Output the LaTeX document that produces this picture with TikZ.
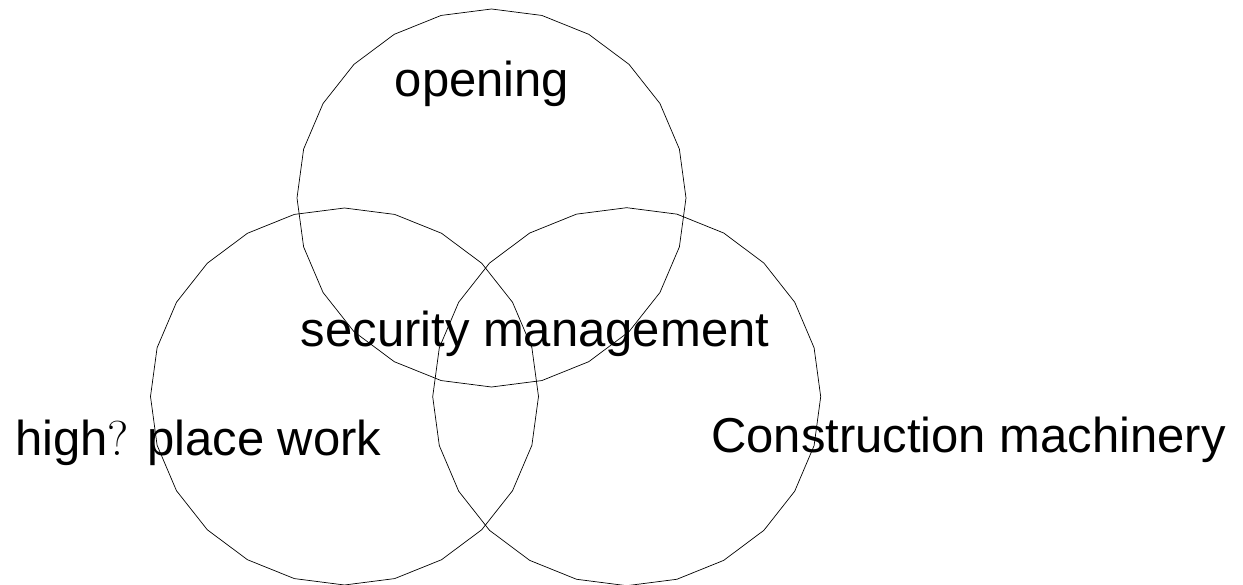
\documentclass[tikz,border=0pt]{standalone}
\usepackage{fontspec}
\setsansfont{Liberation Sans}
\begin{document}
\begin{tikzpicture}[x=1pt,y=-1pt,
  ring/.style={draw=black,line width=0.7pt},
  lbl/.style={inner sep=0pt,font=\sffamily\fontsize{49}{58}\selectfont}]
\useasboundingbox (0,0) rectangle (1243,585);
\draw[ring] plot[samples at={0,15,...,345}] ({491.5+194.5*cos(\x)},{198+189*sin(\x)}) -- cycle;
\draw[ring] plot[samples at={0,15,...,345}] ({344.5+194*cos(\x)},{396.5+188.5*sin(\x)}) -- cycle;
\draw[ring] plot[samples at={0,15,...,345}] ({626.7+194*cos(\x)},{396.7+189*sin(\x)}) -- cycle;
\node[lbl,anchor=base] (open) at (482,97) {opening};
\node[lbl,anchor=base] (sec) at (535,347) {security management};
\node[lbl,anchor=base west] (high) at (15,455) {high{\rmfamily ?} place work};
\node[lbl,anchor=base west] (cons) at (711,452) {Construction machinery};
\end{tikzpicture}
\end{document}
